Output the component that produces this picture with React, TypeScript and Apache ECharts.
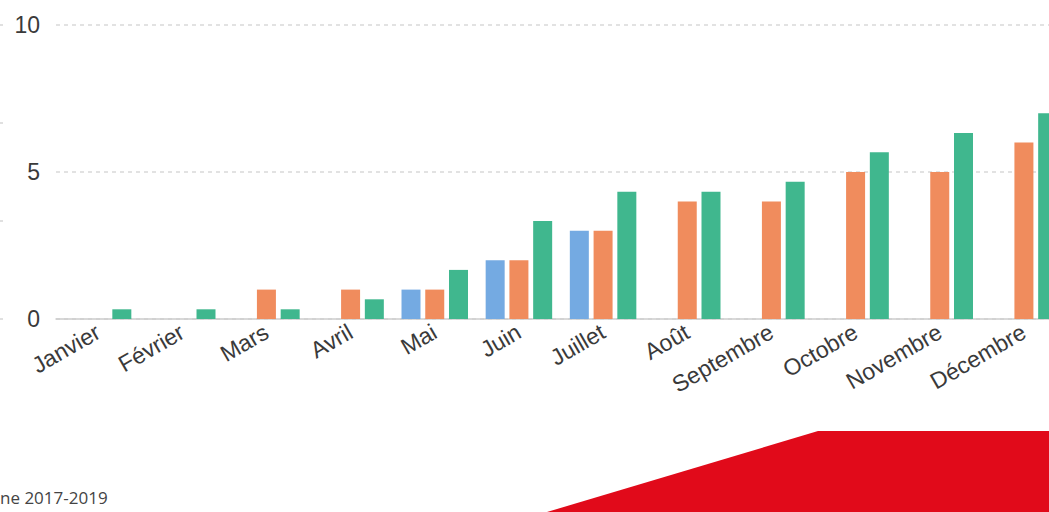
import React, { useEffect, useRef } from "react";
import * as echarts from "echarts";

const categories = ["Janvier", "Février", "Mars", "Avril", "Mai", "Juin", "Juillet", "Août", "Septembre", "Octobre", "Novembre", "Décembre"];
const blueValues = [null, null, null, null, 1, 2, 3, null, null, null, null, null];
const orangeValues = [null, null, 1, 1, 1, 2, 3, 4, 4, 5, 5, 6];
const greenValues = [0.33, 0.33, 0.33, 0.67, 1.67, 3.33, 4.33, 4.33, 4.67, 5.67, 6.33, 7];
const yTicks = { min: 0, max: 10, interval: 5 };
const footnote = "ne 2017-2019";

export default function App() {
  const ref = useRef<HTMLDivElement>(null);
  useEffect(() => {
    if (!ref.current) return;
    const chart = echarts.init(ref.current, null, { renderer: "svg" });
    const font = "'Liberation Sans', Arial, sans-serif";
    chart.setOption({
      animation: false,
      backgroundColor: "#ffffff",
      grid: { left: 56, width: 1010, top: 25, height: 294, containLabel: false, outerBoundsMode: "none" },
      xAxis: {
        type: "category",
        data: categories,
        axisLine: { lineStyle: { color: "#cccccc", width: 1.5 } },
        axisTick: { length: 6, lineStyle: { color: "#cccccc", width: 1.5 } },
        axisLabel: { rotate: 30, fontSize: 23, color: "#3a3a3a", fontFamily: font, margin: 11, interval: 0 },
      },
      yAxis: {
        type: "value",
        min: yTicks.min,
        max: yTicks.max,
        interval: yTicks.interval,
        axisLine: { show: false },
        axisTick: { show: false },
        axisLabel: { fontSize: 23, color: "#3a3a3a", fontFamily: font, margin: 16 },
        splitLine: { lineStyle: { color: "#d9d9d9", type: [4, 4], width: 1.5 } },
      },
      series: [
        { name: "2020", type: "bar", data: blueValues, barWidth: 19, barGap: "25%", itemStyle: { color: "#74aae2" } },
        { name: "2019", type: "bar", data: orangeValues, barWidth: 19, barGap: "25%", itemStyle: { color: "#f08c5d" } },
        { name: "Moyenne 2017-2019", type: "bar", data: greenValues, barWidth: 19, barGap: "25%", itemStyle: { color: "#40b78e" } },
      ],
      graphic: [
        { type: "line", shape: { x1: 0, y1: 25, x2: 3, y2: 25 }, style: { stroke: "#d6d6d6", lineWidth: 1.5 } },
        { type: "line", shape: { x1: 0, y1: 123, x2: 3, y2: 123 }, style: { stroke: "#d6d6d6", lineWidth: 1.5 } },
        { type: "line", shape: { x1: 0, y1: 221, x2: 3, y2: 221 }, style: { stroke: "#d6d6d6", lineWidth: 1.5 } },
        { type: "line", shape: { x1: 0, y1: 319, x2: 3, y2: 319 }, style: { stroke: "#d6d6d6", lineWidth: 1.5 } },
        {
          type: "polygon",
          shape: { points: [[547, 512], [818, 431], [1049, 431], [1049, 512]] },
          style: { fill: "#e10a1a" },
        },
        {
          type: "text",
          left: 0,
          top: 489,
          style: { text: footnote, fontSize: 17, fill: "#444444", fontFamily: "'Open Sans', sans-serif" },
        },
      ],
    });
    return () => chart.dispose();
  }, []);
  return <div ref={ref} style={{ position: "fixed", left: 0, top: 0, width: 1049, height: 512 }} />;
}
